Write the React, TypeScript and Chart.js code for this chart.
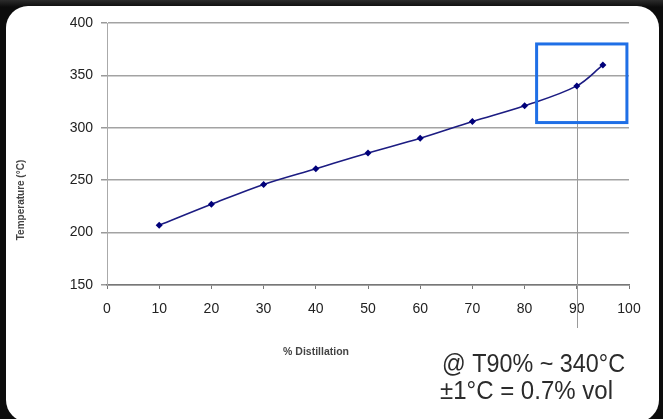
import React, { useEffect, useRef } from "react";
import { Chart, registerables } from "chart.js";

Chart.register(...registerables);

// ---- data ----
const distillation = [10, 20, 30, 40, 50, 60, 70, 80, 90, 95];
const temperature = [207, 227, 246, 261, 276, 290, 306, 321, 340, 360];
const xRange = [0, 100];
const xStep = 10;
const yRange = [150, 400];
const yStep = 50;
const yTitle = "Temperature (°C)";
const xTitle = "% Distillation";
const noteLines = ["@ T90% ~ 340°C", "±1°C = 0.7% vol"];
const highlightX = [82.3, 99.6];
const highlightY = [305, 380];
const markerX = 90;
const markerY = 340;

const FONT = "'Liberation Sans', Arial, sans-serif";

const overlay = {
  id: "overlay",
  beforeDatasetsDraw(chart: any) {
    const { ctx, scales, chartArea } = chart;
    const x = scales.x;
    const y = scales.y;
    ctx.save();
    ctx.strokeStyle = "#9a9a9a";
    ctx.lineWidth = 1;
    const mx = Math.round(x.getPixelForValue(markerX)) + 0.5;
    ctx.beginPath();
    ctx.moveTo(mx, y.getPixelForValue(markerY));
    ctx.lineTo(mx, chartArea.bottom + 43);
    ctx.stroke();
    ctx.restore();
  },
  afterDatasetsDraw(chart: any) {
    const { ctx, scales } = chart;
    const x = scales.x;
    const y = scales.y;
    ctx.save();
    ctx.strokeStyle = "#1f6fe6";
    ctx.lineWidth = 3;
    const x0 = x.getPixelForValue(highlightX[0]);
    const x1 = x.getPixelForValue(highlightX[1]);
    const y0 = y.getPixelForValue(highlightY[1]);
    const y1 = y.getPixelForValue(highlightY[0]);
    ctx.strokeRect(x0, y0, x1 - x0, y1 - y0);
    ctx.restore();
  },
  afterDraw(chart: any) {
    const { ctx } = chart;
    ctx.save();
    // axis titles
    ctx.fillStyle = "#444";
    ctx.font = `bold 10px ${FONT}`;
    ctx.textAlign = "center";
    ctx.textBaseline = "middle";
    ctx.save();
    ctx.translate(21, 200);
    ctx.rotate(-Math.PI / 2);
    ctx.fillText(yTitle, 0, 0);
    ctx.restore();
    ctx.font = `bold 10.5px ${FONT}`;
    ctx.fillText(xTitle, 316, 352);

    // notes
    ctx.fillStyle = "#2b2b2b";
    ctx.font = `26px ${FONT}`;
    ctx.textAlign = "left";
    ctx.textBaseline = "alphabetic";
    const notePos = [
      { left: 442, base: 372, w: 183 },
      { left: 440, base: 399, w: 173 },
    ];
    noteLines.forEach((t, i) => {
      const p = notePos[i];
      const m = ctx.measureText(t).width;
      ctx.save();
      ctx.translate(p.left, p.base);
      ctx.scale(p.w / m, 1);
      ctx.fillText(t, 0, 0);
      ctx.restore();
    });
    ctx.restore();
  },
};

export default function App() {
  const ref = useRef<HTMLCanvasElement | null>(null);

  useEffect(() => {
    if (!ref.current) return;
    const chart = new Chart(ref.current, {
      type: "line",
      data: {
        datasets: [
          {
            data: distillation.map((d, i) => ({ x: d, y: temperature[i] })),
            borderColor: "#1c1c82",
            backgroundColor: "#00007a",
            borderWidth: 1.6,
            pointStyle: "rectRot",
            pointRadius: 3.5,
            pointBorderWidth: 0,
            pointBackgroundColor: "#00007a",
            tension: 0.35,
            fill: false,
          },
        ],
      },
      options: {
        responsive: false,
        animation: false,
        devicePixelRatio: 1,
        layout: { padding: { left: 0, top: 23, right: 34, bottom: 0 } },
        plugins: {
          legend: { display: false },
          tooltip: { enabled: false },
          title: { display: false },
        },
        scales: {
          x: {
            type: "linear",
            min: xRange[0],
            max: xRange[1],
            afterFit: (s: any) => {
              s.height = 134;
            },
            ticks: {
              stepSize: xStep,
              color: "#222",
              font: { family: FONT, size: 14 },
              padding: 12,
              maxRotation: 0,
            },
            grid: {
              drawOnChartArea: false,
              tickLength: 4,
              tickColor: "#777",
              lineWidth: 1,
            },
            border: { color: "#777", width: 1.5 },
          },
          y: {
            min: yRange[0],
            max: yRange[1],
            afterFit: (s: any) => {
              s.width = 107;
            },
            ticks: {
              stepSize: yStep,
              color: "#222",
              font: { family: FONT, size: 14 },
              padding: 8,
            },
            grid: {
              color: "#a3a3a3",
              lineWidth: 1.5,
              tickLength: 6,
              tickColor: "#999",
            },
            border: { color: "#aaa", width: 1 },
          },
        },
      } as any,
      plugins: [overlay],
    });
    return () => chart.destroy();
  }, []);

  return (
    <div
      style={{
        position: "fixed",
        left: 0,
        top: 0,
        width: 663,
        height: 419,
        overflow: "hidden",
        background: "linear-gradient(180deg, #2c2c2c 0px, #0c0c0c 7px, #0c0c0c 100%)",
      }}
    >
      <div
        style={{
          position: "absolute",
          left: 6,
          top: 6,
          width: 653,
          height: 416,
          background: "#fff",
          borderRadius: 22,
        }}
      />
      <canvas
        ref={ref}
        width={663}
        height={419}
        style={{ position: "absolute", left: 0, top: 0, width: 663, height: 419 }}
      />
    </div>
  );
}
